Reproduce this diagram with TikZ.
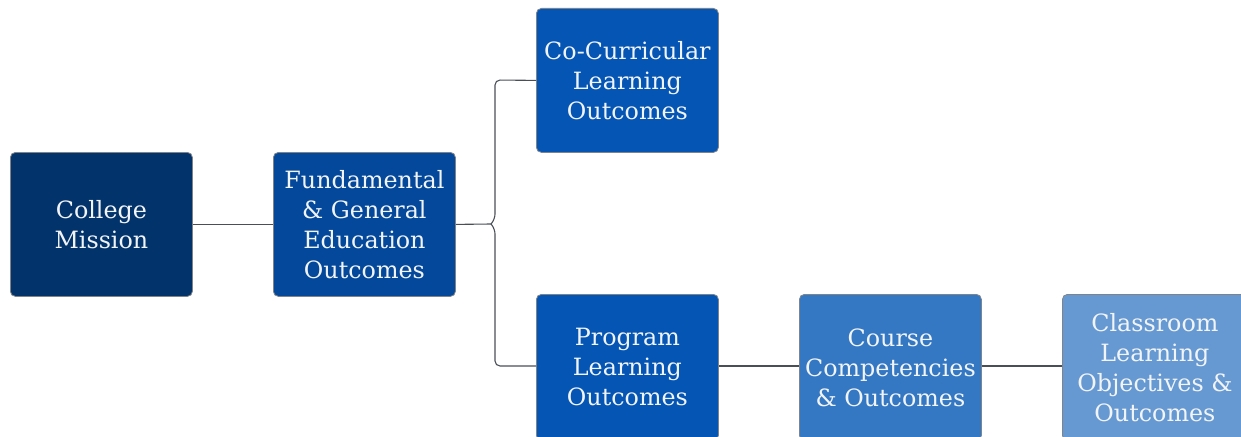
\documentclass[tikz,border=0pt]{standalone}
\usepackage{fontspec}
\setmainfont{DejaVu Serif}
\definecolor{cA}{HTML}{02346B}
\definecolor{cB}{HTML}{03489A}
\definecolor{cC}{HTML}{0455B4}
\definecolor{cD}{HTML}{3478C3}
\definecolor{cE}{HTML}{6699D1}
\definecolor{edgec}{HTML}{4A4F57}
\definecolor{txt}{HTML}{F2F4F8}
\begin{document}
\begin{tikzpicture}[x=1pt,y=-1pt,
  box/.style={draw=edgec!70, line width=0.8pt, rounded corners=5pt, minimum width=182pt, minimum height=144pt,
    text=txt, align=center, inner sep=1pt, font=\fontsize{23.8}{30}\selectfont, anchor=north west},
  link/.style={draw=edgec, line width=1.1pt}]
\useasboundingbox (0,0) rectangle (1241,436);
\node[box, fill=cA] (mission) at (10,152) {College\\Mission};
\node[box, fill=cB] (fund) at (273,152) {Fundamental\\\& General\\Education\\Outcomes};
\node[box, fill=cC] (cocur) at (536,8) {Co-Curricular\\Learning\\Outcomes};
\node[box, fill=cC, minimum height=146pt] (prog) at (536,294) {Program\\Learning\\Outcomes};
\node[box, fill=cD, minimum height=146pt] (course) at (799,294) {Course\\Competencies\\\& Outcomes};
\node[box, fill=cE, minimum height=146pt, minimum width=185pt] (class) at (1062,294) {Classroom\\Learning\\Objectives \&\\Outcomes};
\coordinate (j) at (491,224);
\draw[link] (mission.east) -- (fund.west |- mission.east);
\draw[link] (fund.east) -- (j);
\draw[link, rounded corners=5pt] (cocur.west) -- (495,80) -- (495,219) -- (j);
\draw[link, rounded corners=5pt] (prog.west |- 0,366) -- (495,366) -- (495,229) -- (j);
\draw[link] (prog.east |- 0,366) -- (course.west |- 0,366);
\draw[link] (course.east |- 0,366) -- (class.west |- 0,366);
\end{tikzpicture}
\end{document}
